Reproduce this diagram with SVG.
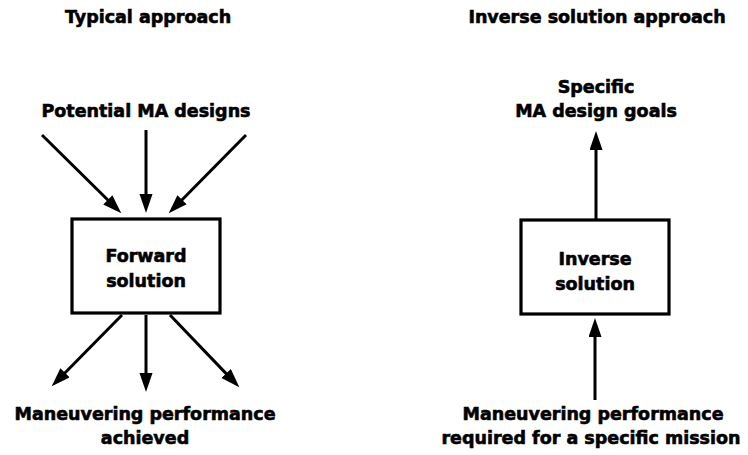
<svg xmlns="http://www.w3.org/2000/svg" width="748" height="455" viewBox="0 0 748 455">
<style>
text{font-family:"DejaVu Sans","Liberation Sans",sans-serif;font-weight:bold;font-size:17.5px;fill:#000;stroke:#000;stroke-width:0.6;text-anchor:middle}
.box{fill:#fff;stroke:#000;stroke-width:3.2}
.conn line{stroke:#000;stroke-width:3;marker-end:url(#ah)}
</style>
<defs>
<marker id="ah" markerUnits="userSpaceOnUse" markerWidth="22" markerHeight="14" refX="9" refY="6.5" orient="auto">
<path d="M0,0 L19,6.5 L0,13 z" fill="#000"/>
</marker>
</defs>
<rect width="748" height="455" fill="#fff"/>
<g id="title-typical"><text x="148" y="23">Typical approach</text></g>
<g id="title-inverse"><text x="597" y="23">Inverse solution approach</text></g>
<g id="potential"><text x="146" y="117">Potential MA designs</text></g>
<g id="forward"><rect class="box" x="72" y="219" width="148" height="94"/><text x="146" y="262">Forward</text><text x="146" y="287">solution</text></g>
<g id="achieved"><text x="145" y="420">Maneuvering performance</text><text x="145" y="444">achieved</text></g>
<g id="goals"><text x="596" y="93">Specific</text><text x="596" y="117">MA design goals</text></g>
<g id="inverse"><rect class="box" x="521" y="220" width="148" height="94"/><text x="595" y="265">Inverse</text><text x="595" y="290">solution</text></g>
<g id="required"><text x="593" y="420">Maneuvering performance</text><text x="591" y="444">required for a specific mission</text></g>
<g id="connectors" class="conn">
<line x1="42" y1="135" x2="114.2" y2="206.3"/>
<line x1="146" y1="130" x2="146" y2="203"/>
<line x1="246" y1="135" x2="175.7" y2="206.2"/>
<line x1="122" y1="315" x2="58.7" y2="379.2"/>
<line x1="146" y1="315" x2="146" y2="382"/>
<line x1="170" y1="315" x2="232.4" y2="380.1"/>
<line x1="596" y1="219" x2="596" y2="141"/>
<line x1="595" y1="400" x2="595" y2="328"/>
</g>
</svg>
